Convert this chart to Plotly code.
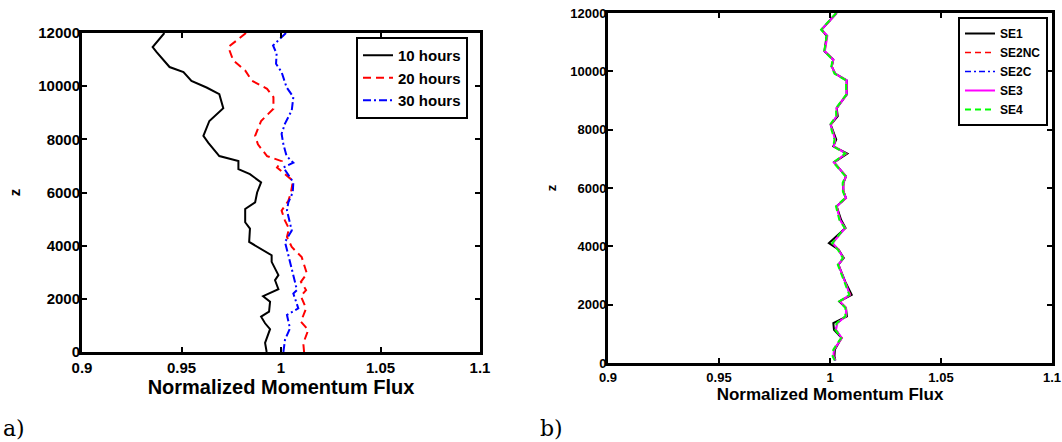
import plotly.graph_objects as go

# ---------------- data: panel a ----------------
z_10h = [12000, 11470, 11280, 10970, 10720, 10530, 10200, 9950, 9700, 9170,
         8690, 8130, 7870, 7370, 7180, 6880, 6690, 6380, 6000, 5630,
         5380, 4880, 4640, 4140, 3890, 3640, 3390, 2890, 2700, 2360,
         2100, 1890, 1520, 1330, 1080, 860, 340, 0]
flux_10h = [0.9414, 0.9355, 0.9375, 0.941, 0.944, 0.951, 0.955, 0.9626, 0.969, 0.971,
            0.964, 0.961, 0.9635, 0.969, 0.9786, 0.9786, 0.9844, 0.990, 0.988, 0.987,
            0.982, 0.982, 0.9844, 0.984, 0.9894, 0.9953, 0.9953, 0.9987, 0.997, 0.9987,
            0.991, 0.9945, 0.994, 0.990, 0.992, 0.9945, 0.992, 0.9928]

z_20h = [12000, 11470, 10970, 10590, 10210, 9900, 9590, 9150, 8690, 8130,
         7810, 7370, 7180, 6940, 6440, 6000, 5690, 5320, 4940, 4640,
         4330, 3950, 3570, 2950, 2640, 2330, 2100, 1640, 1140, 830,
         330, 0]
flux_20h = [0.9824, 0.9735, 0.976, 0.982, 0.9853, 0.993, 0.9962, 0.9962, 0.990, 0.987,
            0.9884, 0.993, 1.0003, 0.998, 1.006, 1.005, 1.0037, 1.0003, 1.002, 1.004,
            1.003, 1.0054, 1.0104, 1.013, 1.010, 1.0126, 1.010, 1.0126, 1.010, 1.0137,
            1.0112, 1.0116]

z_30h = [12000, 11530, 11220, 10840, 10530, 9960, 9590, 9090, 8590, 8210,
         7810, 7370, 7120, 6940, 6380, 6000, 5630, 5320, 4570, 4140,
         3640, 2950, 2640, 2330, 2200, 1640, 1390, 890, 460, 0]
flux_30h = [1.0025, 0.996, 0.9978, 0.9975, 1.0003, 1.0028, 1.0062, 1.0054, 1.002, 1.0003,
            1.0012, 1.0028, 1.0062, 1.0012, 1.0062, 1.0059, 1.0037, 1.003, 1.0054, 1.002,
            1.0037, 1.0062, 1.007, 1.008, 1.0062, 1.0087, 1.003, 1.0045, 1.002, 1.0012]

# ---------------- data: panel b ----------------
z_b = [12000, 11430, 11220, 10690, 10400, 10170, 9920, 9690, 9200, 8740,
       8460, 8170, 7660, 7430, 7180, 6880, 6400, 6170, 5890, 5660,
       5370, 4910, 4630, 4110, 3890, 3600, 3370, 2800, 2340, 2110,
       1890, 1600, 1370, 1140, 860, 460, 230, 90]
flux_SE1 = [1.003, 0.9962, 0.9985, 0.9975, 1.0015, 1.0008, 1.0023, 1.0075, 1.0075, 1.003,
            1.0035, 1.0003, 1.0028, 1.0015, 1.0078, 1.0018, 1.0072, 1.006, 1.006, 1.0072,
            1.003, 1.005, 1.0070, 0.9995, 1.0038, 1.0062, 1.0038, 1.0068, 1.0098, 1.0042,
            1.0072, 1.0076, 1.0015, 1.0018, 1.0052, 1.0022, 1.002, 1.0024]
flux_SE2NC = [1.003, 0.9963, 0.9987, 0.9977, 1.0016, 1.0008, 1.0024, 1.0076, 1.0074, 1.0031,
              1.0031, 1.0004, 1.0024, 1.0017, 1.0074, 1.0019, 1.0073, 1.0061, 1.0061, 1.0073,
              1.0031, 1.0046, 1.0068, 1.0011, 1.0039, 1.0061, 1.0038, 1.0069, 1.0092, 1.0046,
              1.0073, 1.0073, 1.0032, 1.0027, 1.0054, 1.0019, 1.0016, 1.0025]
flux_SE2C = [1.003, 0.9962, 0.9988, 0.9976, 1.0015, 1.0007, 1.0023, 1.0075, 1.0075, 1.003,
             1.003, 1.0003, 1.0023, 1.0017, 1.0072, 1.0018, 1.0072, 1.006, 1.006, 1.0072,
             1.003, 1.0045, 1.0067, 1.0012, 1.0038, 1.006, 1.0037, 1.0068, 1.0089, 1.0045,
             1.0071, 1.0072, 1.0033, 1.0026, 1.0053, 1.0018, 1.0015, 1.0024]
flux_SE3 = [1.003, 0.9962, 0.9988, 0.9977, 1.0015, 1.0008, 1.0023, 1.0075, 1.0075, 1.003,
            1.003, 1.0003, 1.0023, 1.0018, 1.0072, 1.0018, 1.0072, 1.006, 1.006, 1.0072,
            1.003, 1.0045, 1.0068, 1.0012, 1.0038, 1.006, 1.0038, 1.0068, 1.009, 1.0045,
            1.0072, 1.0072, 1.0033, 1.0027, 1.0053, 1.0018, 1.0015, 1.0024]
flux_SE4 = [1.0028, 0.996, 0.9985, 0.9974, 1.0012, 1.0006, 1.002, 1.0072, 1.0073, 1.0027,
            1.0028, 1.0, 1.002, 1.0015, 1.0069, 1.0015, 1.007, 1.0057, 1.0058, 1.0069,
            1.0027, 1.0042, 1.0066, 1.001, 1.0035, 1.0058, 1.0035, 1.0065, 1.0087, 1.0042,
            1.0069, 1.0069, 1.003, 1.0024, 1.005, 1.0015, 1.0012, 1.0021]

x_ticks = [0.9, 0.95, 1.0, 1.05, 1.1]
x_tick_labels = ["0.9", "0.95", "1", "1.05", "1.1"]
y_ticks = [0, 2000, 4000, 6000, 8000, 10000, 12000]
y_tick_labels = ["0", "2000", "4000", "6000", "8000", "10000", "12000"]

FONT = "Liberation Sans, Arial, Helvetica, sans-serif"
W, H = 1062, 442

fig = go.Figure()

# panel a
fig.add_trace(go.Scatter(x=flux_10h, y=z_10h, mode="lines", name="10 hours",
                         line=dict(color="black", width=2), xaxis="x", yaxis="y", legend="legend"))
fig.add_trace(go.Scatter(x=flux_20h, y=z_20h, mode="lines", name="20 hours",
                         line=dict(color="#ff0000", width=2, dash="8px,5px"), xaxis="x", yaxis="y", legend="legend"))
fig.add_trace(go.Scatter(x=flux_30h, y=z_30h, mode="lines", name="30 hours",
                         line=dict(color="#0000ff", width=2, dash="8px,3px,2px,3px"), xaxis="x", yaxis="y", legend="legend"))

# panel b
fig.add_trace(go.Scatter(x=flux_SE1, y=z_b, mode="lines", name="SE1",
                         line=dict(color="black", width=2), xaxis="x2", yaxis="y2", legend="legend2"))
fig.add_trace(go.Scatter(x=flux_SE2NC, y=z_b, mode="lines", name="SE2NC",
                         line=dict(color="#ff0000", width=1.5, dash="6px,4px"), xaxis="x2", yaxis="y2", legend="legend2"))
fig.add_trace(go.Scatter(x=flux_SE2C, y=z_b, mode="lines", name="SE2C",
                         line=dict(color="#0000ff", width=1.5, dash="6px,3px,2px,3px"), xaxis="x2", yaxis="y2", legend="legend2"))
fig.add_trace(go.Scatter(x=flux_SE3, y=z_b, mode="lines", name="SE3",
                         line=dict(color="#ff00ff", width=2), xaxis="x2", yaxis="y2", legend="legend2"))
fig.add_trace(go.Scatter(x=flux_SE4, y=z_b, mode="lines", name="SE4",
                         line=dict(color="#00ff00", width=2, dash="6px,4px"), xaxis="x2", yaxis="y2", legend="legend2"))

def xax(domain, anchor, size, title_size, standoff):
    return dict(domain=domain, anchor=anchor, range=[0.9, 1.1], tickvals=x_ticks, ticktext=x_tick_labels,
                ticks="inside", ticklen=5, tickwidth=2, tickcolor="black",
                showline=True, linecolor="black", linewidth=3, mirror="allticks",
                showgrid=False, zeroline=False, automargin=False,
                tickfont=dict(family=FONT, size=size, color="black", weight="bold"),
                title=dict(text="Normalized Momentum Flux", standoff=standoff,
                           font=dict(family=FONT, size=title_size, color="black", weight="bold")))

def yax(domain, anchor, size, standoff):
    return dict(domain=domain, anchor=anchor, range=[0, 12000], tickvals=y_ticks, ticktext=y_tick_labels,
                ticks="inside", ticklen=5, tickwidth=2, tickcolor="black",
                showline=True, linecolor="black", linewidth=3, mirror="allticks",
                showgrid=False, zeroline=False, automargin=False, ticklabelstandoff=-4,
                tickfont=dict(family=FONT, size=size, color="black", weight="bold"),
                title=dict(text="z", standoff=standoff,
                           font=dict(family=FONT, size=size, color="black", weight="bold")))

fig.update_layout(
    width=W, height=H,
    margin=dict(l=0, r=0, t=0, b=0, autoexpand=False),
    paper_bgcolor="white", plot_bgcolor="white",
    xaxis=xax([82 / W, 480 / W], "y", 15, 20, 5),
    yaxis=yax([1 - 352 / H, 1 - 33 / H], "x", 15, 15),
    xaxis2=xax([608 / W, 1052 / W], "y2", 13, 17, 2),
    yaxis2=yax([1 - 363 / H, 1 - 13 / H], "x2", 13, 11),
    legend=dict(x=356 / W, y=1 - 37 / H, xanchor="left", yanchor="top",
                bgcolor="white", bordercolor="black", borderwidth=2,
                font=dict(family=FONT, size=15, color="black", weight="bold"),
                tracegroupgap=0, itemwidth=30),
    legend2=dict(x=958 / W, y=1 - 17 / H, xanchor="left", yanchor="top",
                 bgcolor="white", bordercolor="black", borderwidth=2,
                 font=dict(family=FONT, size=12, color="black", weight="bold"),
                 tracegroupgap=0, itemwidth=30),
    showlegend=True,
    annotations=[
        dict(text="a)", x=1 / W, y=1 - 428 / H, xref="paper", yref="paper", xanchor="left", yanchor="middle",
             showarrow=False, font=dict(family="DejaVu Serif, Liberation Serif, serif", size=22, color="black")),
        dict(text="b)", x=538 / W, y=1 - 428 / H, xref="paper", yref="paper", xanchor="left", yanchor="middle",
             showarrow=False, font=dict(family="DejaVu Serif, Liberation Serif, serif", size=22, color="black")),
    ],
)

fig.write_html("out.html", config={"displayModeBar": False},
               post_script="document.body.style.margin='0';")
